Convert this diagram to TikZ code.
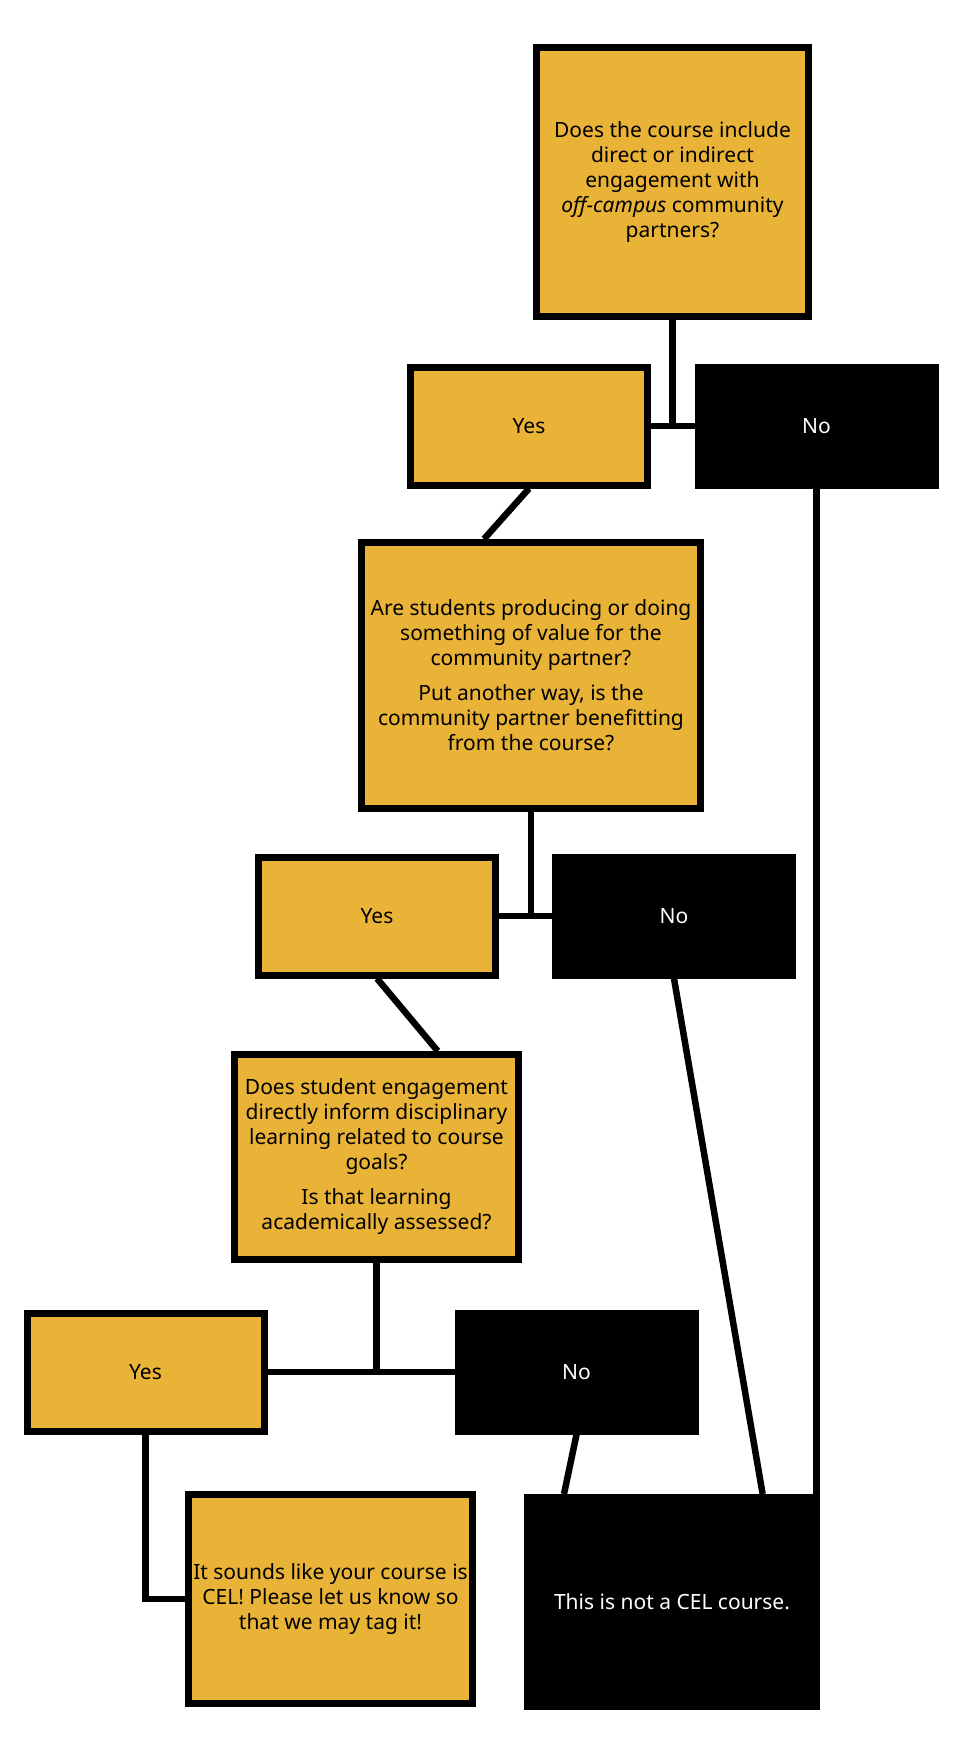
\documentclass[tikz,border=0pt]{standalone}
\usepackage{fontspec}
\setmainfont{Noto Sans}
\definecolor{celgold}{RGB}{233,179,56}
\tikzset{
  qbox/.style={rectangle, draw=black, fill=celgold, line width=7pt, inner sep=0pt, align=center, font=\fontsize{21}{25}\selectfont},
  yesbox/.style={qbox, minimum width=237pt, minimum height=118pt},
  nobox/.style={yesbox, fill=black, text=white},
  link/.style={draw=black, line width=6.5pt}
}
\begin{document}
\begin{tikzpicture}[x=1pt,y=-1pt]
    \useasboundingbox (0,0) rectangle (965,1740);
    \node[qbox, minimum width=272pt, minimum height=269pt] (q1) at (672.5,182) {Does the course include\\ direct or indirect\\ engagement with\\ \textit{off-campus} community\\ partners?};
    \node[yesbox] (yes1) at (529,426) {Yes};
    \node[nobox] (no1) at (816.5,426) {No};
    \node[qbox, minimum width=339pt, minimum height=266pt] (q2) at (531,675.5) {Are students producing or doing\\ something of value for the\\ community partner?\\[10pt] Put another way, is the\\ community partner benefitting\\ from the course?};
    \node[yesbox] (yes2) at (377,916) {Yes};
    \node[nobox] (no2) at (674,916) {No};
    \node[qbox, minimum width=284pt, minimum height=205pt] (q3) at (376.5,1157) {Does student engagement\\ directly inform disciplinary\\ learning related to course\\ goals?\\[10pt] Is that learning\\ academically assessed?};
    \node[yesbox] (yes3) at (145.5,1372) {Yes};
    \node[nobox] (no3) at (576.5,1372) {No};
    \node[qbox, minimum width=284pt, minimum height=209pt] (cel) at (330.5,1599) {It sounds like your course is\\ CEL! Please let us know so\\ that we may tag it!};
    \node[qbox, fill=black, text=white, minimum width=289pt, minimum height=209pt] (notcel) at (672,1602) {This is not a CEL course.};
    % connectors
    \draw[link] (q1) -- (q1 |- yes1.east);
    \draw[link] (yes1) -- (no1);
    \draw[link] (yes1.south) -- (q2.109);
    \draw[link] (no1) -- (no1 |- notcel.north);
    \draw[link] (q2) -- (q2 |- yes2.east);
    \draw[link] (yes2) -- (no2);
    \draw[link] (yes2.south) -- (q3.60);
    \draw[link] (no2.south) -- (notcel.50);
    \draw[link] (q3) -- (q3 |- yes3.east);
    \draw[link] (yes3) -- (no3);
    \draw[link] (no3.south) -- (notcel.135);
    \draw[link] (yes3.south) |- (cel.west);
\end{tikzpicture}
\end{document}
